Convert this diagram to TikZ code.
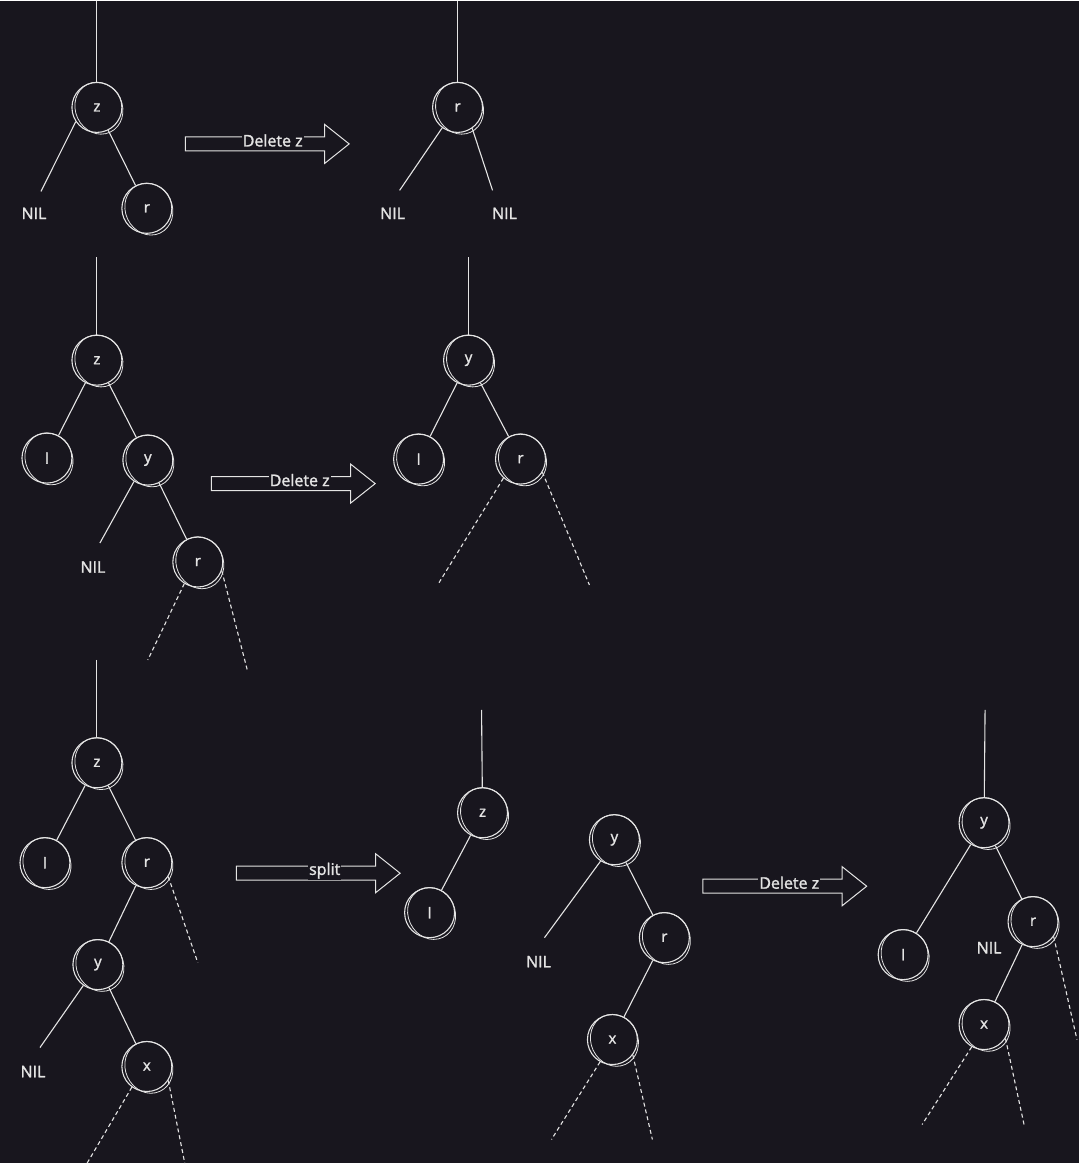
\documentclass[tikz,border=0pt]{standalone}
\usepackage{fontspec}
\setmainfont{Open Sans}
\newfontfamily\handschrift{Open Sans}[RawFeature={embolden=1.6}]
\usetikzlibrary{shapes.arrows}
\definecolor{hintergrund}{RGB}{24,22,30}
\definecolor{kreide}{RGB}{228,228,228}
\tikzset{
  knoten/.style={circle,draw=kreide,line width=1.1pt,minimum size=50pt,
    inner sep=0pt,text=kreide,font=\handschrift\fontsize{15}{18}\selectfont},
  skizze/.style={draw=kreide,line width=0.8pt},
  kante/.style={draw=kreide,line width=1.1pt},
  teilbaum/.style={draw=kreide,line width=1.1pt,dash pattern=on 4pt off 3pt},
  nil/.style={text=kreide,inner sep=1pt,font=\handschrift\fontsize{16}{19}\selectfont},
  pfeil/.style={single arrow,draw=kreide,line width=1pt,inner xsep=0pt,
    inner ysep=6.5pt,single arrow head extend=12.5pt,single arrow tip angle=77,
    minimum height=164pt,anchor=tail},
  beschriftung/.style={fill=hintergrund,inner sep=1pt,text=kreide,
    font=\handschrift\fontsize{16}{19}\selectfont}
}
\begin{document}
\begin{tikzpicture}[x=1pt,y=-1pt]
%Hintergrund
	\fill[hintergrund] (0,0) rectangle (1080,1164);
%Fall 1: kein linkes Kind
	\coordinate (t1) at (97,0);
	\draw (97,107) node[knoten] (z1) {z};
	\draw (147,208) node[knoten] (r1) {r};
	\draw (34,213) node[nil] (nil1) {NIL};
	\coordinate (e1) at (41,191);
	\draw[kante] (t1) -- (z1);
	\draw[kante] (z1.214) -- (e1);
	\draw[kante] (z1) -- (r1);
	\node[pfeil] (p1) at (185,143.5) {};
	\draw (273,140) node[beschriftung] {Delete z};
	\coordinate (t2) at (458,0);
	\draw (458,107) node[knoten] (r2) {r};
	\draw (393,213) node[nil] (nil2) {NIL};
	\draw (505,213) node[nil] (nil3) {NIL};
	\coordinate (e2) at (400,190);
	\coordinate (e3) at (493,190);
	\draw[kante] (t2) -- (r2);
	\draw[kante] (r2.233) -- (e2);
	\draw[kante] (r2.305) -- (e3);
%Fall 2: Nachfolger ist rechtes Kind
	\coordinate (t3) at (97,257);
	\draw (97,360) node[knoten] (z3) {z};
	\draw (47,458) node[knoten] (l3) {l};
	\draw (148,460) node[knoten] (y3) {y};
	\draw (198,562) node[knoten] (r3) {r};
	\draw (93,567) node[nil] (nil4) {NIL};
	\coordinate (e4) at (100,543);
	\coordinate (d1) at (148,660);
	\coordinate (d2) at (248,672);
	\draw[kante] (t3) -- (z3);
	\draw[kante] (z3) -- (l3);
	\draw[kante] (z3) -- (y3);
	\draw[kante] (y3.237) -- (e4);
	\draw[kante] (y3) -- (r3);
	\draw[teilbaum] (r3.238) -- (d1);
	\draw[teilbaum] (r3.340) -- (d2);
	\node[pfeil] (p2) at (211,483.5) {};
	\draw (300,480) node[beschriftung] {Delete z};
	\coordinate (t4) at (469,257);
	\draw (469,360) node[knoten] (y4) {y};
	\draw (419,459) node[knoten] (l4) {l};
	\draw (521,459) node[knoten] (r4) {r};
	\coordinate (d3) at (438,585);
	\coordinate (d4) at (590,585);
	\draw[kante] (t4) -- (y4);
	\draw[kante] (y4) -- (l4);
	\draw[kante] (y4) -- (r4);
	\draw[teilbaum] (r4.228) -- (d3);
	\draw[teilbaum] (r4.329) -- (d4);
%Fall 3: Nachfolger tiefer im rechten Teilbaum
	\coordinate (t5) at (97,660);
	\draw (97,763) node[knoten] (z5) {z};
	\draw (45,863) node[knoten] (l5) {l};
	\draw (147,863) node[knoten] (r5) {r};
	\draw (98,965) node[knoten] (y5) {y};
	\draw (147,1067) node[knoten] (x5) {x};
	\draw (33,1072) node[nil] (nil5) {NIL};
	\coordinate (e5) at (40,1048);
	\coordinate (d5) at (198,963);
	\coordinate (d6) at (87,1164);
	\coordinate (d7) at (185,1164);
	\draw[kante] (t5) -- (z5);
	\draw[kante] (z5) -- (l5);
	\draw[kante] (z5) -- (r5);
	\draw[teilbaum] (r5.327) -- (d5);
	\draw[kante] (r5) -- (y5);
	\draw[kante] (y5.235) -- (e5);
	\draw[kante] (y5) -- (x5);
	\draw[teilbaum] (x5.234) -- (d6);
	\draw[teilbaum] (x5.327) -- (d7);
	\node[pfeil] (p3) at (236,873.5) {};
	\draw (325,871) node[beschriftung] {split};
	\coordinate (t6) at (482,710);
	\draw (483,813) node[knoten] (z6) {z};
	\draw (430,913) node[knoten] (l6) {l};
	\draw (615,840) node[knoten] (y6) {y};
	\draw (665,938) node[knoten] (r6) {r};
	\draw (613,1040) node[knoten] (x6) {x};
	\draw (539,962) node[nil] (nil6) {NIL};
	\coordinate (e6) at (545,938);
	\coordinate (d8) at (552,1140);
	\coordinate (d9) at (653,1140);
	\draw[kante] (t6) -- (z6);
	\draw[kante] (z6) -- (l6);
	\draw[kante] (y6.237) -- (e6);
	\draw[kante] (y6) -- (r6);
	\draw[kante] (r6) -- (x6);
	\draw[teilbaum] (x6.241) -- (d8);
	\draw[teilbaum] (x6.323) -- (d9);
	\node[pfeil] (p4) at (703,886.5) {};
	\draw (790,883) node[beschriftung] {Delete z};
	\coordinate (t7) at (986,710);
	\draw (985,823) node[knoten] (y7) {y};
	\draw (904,955) node[knoten] (l7) {l};
	\draw (1034,922) node[knoten] (r7) {r};
	\draw (985,1025) node[knoten] (x7) {x};
	\draw (990,948) node[nil] (nil7) {NIL};
	\coordinate (d10) at (1078,1040);
	\coordinate (d11) at (923,1125);
	\coordinate (d12) at (1025,1125);
	\draw[kante] (t7) -- (y7);
	\draw[kante] (y7) -- (l7);
	\draw[kante] (y7) -- (r7);
	\draw[kante] (r7) -- (x7);
	\draw[teilbaum] (r7.324) -- (d10);
	\draw[teilbaum] (x7.241) -- (d11);
	\draw[teilbaum] (x7.327) -- (d12);
%Skizzenstriche
	\foreach \n in {z1,r1,r2,z3,l3,y3,r3,y4,l4,r4,z5,l5,r5,y5,x5,z6,l6,y6,r6,x6,y7,l7,r7,x7}{
		\draw[skizze,rotate around={25:(\n.center)}] (\n.center) ++(1.5,1.5) ellipse [x radius=23.5pt, y radius=26.5pt];}
\end{tikzpicture}
\end{document}
